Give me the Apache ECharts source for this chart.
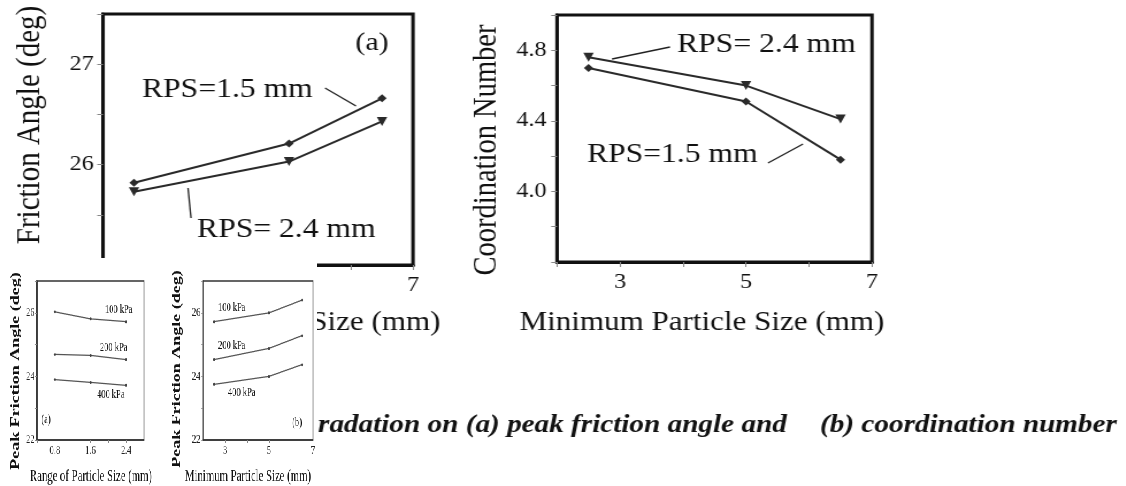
<!DOCTYPE html>
<html>
<head>
<meta charset="utf-8">
<script src="https://cdn.jsdelivr.net/npm/echarts@6/dist/echarts.min.js"></script>
<style>
html,body{margin:0;padding:0;background:#fff;overflow:hidden;width:1126px;height:486px;}
#main{position:absolute;left:0;top:0;height:486px;transform-origin:0 0;}
#inset{position:absolute;left:0;top:258px;height:228px;background:#fff;transform-origin:0 0;}
</style>
</head>
<body>
<div id="main"></div>
<div id="inset"></div>
<script>
// ---------- data ----------
const minParticleSize = [2.5, 5, 6.5];
const frictionRPS15 = [25.82, 26.21, 26.66];
const frictionRPS24 = [25.73, 26.03, 26.43];
const coordRPS24 = [4.76, 4.60, 4.41];
const coordRPS15 = [4.70, 4.51, 4.18];

const rangeParticleSize = [0.8, 1.6, 2.4];
const peakA100 = [26.03, 25.81, 25.72];
const peakA200 = [24.69, 24.66, 24.53];
const peakA400 = [23.90, 23.81, 23.72];
const peakB100 = [25.72, 26.00, 26.40];
const peakB200 = [24.53, 24.88, 25.28];
const peakB400 = [23.75, 24.00, 24.37];

const frictionTicks = [26, 27];
const coordTicks = [4.0, 4.4, 4.8];
const minSizeTicks = [3, 5, 7];
const rangeTicks = [0.8, 1.6, 2.4];
const peakTicks = [22, 24, 26];

// ---------- helpers ----------
const S1 = 1.15;   // horizontal stretch of main figure
const S2 = 0.65;   // horizontal compression of inset figure
const FONT = 'Liberation Serif';
function pick(list, dec){ return function(v){ return list.some(t => Math.abs(t - v) < 1e-6) ? (dec ? v.toFixed(dec) : String(v)) : ''; }; }
function pairs(xs, ys){ return xs.map((x,i)=>[x, ys[i]]); }
function txt(x, y, text, size, opt){
  opt = opt || {};
  return { type:'text', x:x, y:y, rotation: opt.rot || 0, z: 50,
    style:{ text:text, fontSize:size, fontFamily:FONT, fontWeight: opt.weight || 'normal', fontStyle: opt.style || 'normal',
      fill:'#111', align: opt.align || 'left', textAlign: opt.align || 'left', verticalAlign:'middle', textVerticalAlign:'middle' } };
}
function ln(x1,y1,x2,y2,w){ return { type:'line', z:50, shape:{x1:x1,y1:y1,x2:x2,y2:y2}, style:{stroke:'#222', lineWidth:w||1.3} }; }

// ---------- main figure ----------
const mainW = 1126 / S1;
const mainEl = document.getElementById('main');
mainEl.style.width = mainW + 'px';
mainEl.style.transform = 'scaleX(' + S1 + ')';
const X = v => v / S1;

const axisLineBig = { show:true, lineStyle:{ color:'#111', width:3 } };
const tickBig = { show:true, length:5, lineStyle:{ color:'#888', width:1 } };
const labelBig = { fontFamily:FONT, fontSize:21, color:'#111' };

const main = echarts.init(mainEl);
main.setOption({
  animation:false,
  backgroundColor:'#fff',
  grid:[
    { left:X(103), top:14, width:X(310), height:251, show:true, borderColor:'#111', borderWidth:3, backgroundColor:'transparent' },
    { left:X(557), top:15, width:X(315), height:247, show:true, borderColor:'#111', borderWidth:3, backgroundColor:'transparent' }
  ],
  xAxis:[
    { gridIndex:0, type:'value', min:2, max:7, interval:1, axisLine:axisLineBig, axisTick:tickBig, splitLine:{show:false},
      axisLabel:Object.assign({ margin:10, formatter:pick(minSizeTicks) }, labelBig) },
    { gridIndex:1, type:'value', min:2, max:7, interval:1, axisLine:axisLineBig, axisTick:tickBig, splitLine:{show:false},
      axisLabel:Object.assign({ margin:10, formatter:pick(minSizeTicks) }, labelBig) }
  ],
  yAxis:[
    { gridIndex:0, type:'value', min:25, max:27.5, interval:0.5, axisLine:axisLineBig, axisTick:tickBig, splitLine:{show:false},
      axisLabel:Object.assign({ margin:8, formatter:pick(frictionTicks) }, labelBig) },
    { gridIndex:1, type:'value', min:3.6, max:5.0, interval:0.2, axisLine:axisLineBig, axisTick:tickBig, splitLine:{show:false},
      axisLabel:Object.assign({ margin:9, formatter:pick(coordTicks, 1) }, labelBig) }
  ],
  series:[
    { name:'RPS=1.5 mm', type:'line', xAxisIndex:0, yAxisIndex:0, data:pairs(minParticleSize, frictionRPS15),
      symbol:'diamond', symbolSize:8, lineStyle:{color:'#2a2a2a', width:2}, itemStyle:{color:'#2a2a2a'} },
    { name:'RPS= 2.4 mm', type:'line', xAxisIndex:0, yAxisIndex:0, data:pairs(minParticleSize, frictionRPS24),
      symbol:'triangle', symbolRotate:180, symbolSize:9, lineStyle:{color:'#2a2a2a', width:2}, itemStyle:{color:'#2a2a2a'} },
    { name:'RPS= 2.4 mm', type:'line', xAxisIndex:1, yAxisIndex:1, data:pairs(minParticleSize, coordRPS24),
      symbol:'triangle', symbolRotate:180, symbolSize:9, lineStyle:{color:'#2a2a2a', width:2}, itemStyle:{color:'#2a2a2a'} },
    { name:'RPS=1.5 mm', type:'line', xAxisIndex:1, yAxisIndex:1, data:pairs(minParticleSize, coordRPS15),
      symbol:'diamond', symbolSize:8, lineStyle:{color:'#2a2a2a', width:2}, itemStyle:{color:'#2a2a2a'} }
  ],
  graphic:[
    txt(X(30), 125, 'Friction Angle (deg)', 29, {rot:Math.PI/2, align:'center'}),
    txt(X(487), 150, 'Coordination Number', 28.5, {rot:Math.PI/2, align:'center'}),
    txt(X(372), 43, '(a)', 26, {align:'center'}),
    txt(X(142), 90, 'RPS=1.5 mm', 27.5),
    ln(X(325), 88, X(356), 106),
    txt(X(197), 230, 'RPS= 2.4 mm', 27.5),
    ln(X(188), 188, X(191), 218),
    txt(X(677), 45, 'RPS= 2.4 mm', 27.5),
    ln(X(612), 59, X(670), 47),
    txt(X(587), 155, 'RPS=1.5 mm', 27.5),
    ln(X(768), 163, X(803), 144),
    txt(X(258), 323, 'Minimum Particle Size (mm)', 27, {align:'center'}),
    txt(X(702), 323, 'Minimum Particle Size (mm)', 27, {align:'center'}),
    txt(X(318), 425, 'radation on (a) peak friction angle and', 25.4, {weight:'bold', style:'italic'}),
    txt(X(820), 425, '(b) coordination number', 25.4, {weight:'bold', style:'italic'})
  ]
});

// ---------- inset figure ----------
const insetW = 317 / S2;
const insetEl = document.getElementById('inset');
insetEl.style.width = insetW + 'px';
insetEl.style.transform = 'scaleX(' + S2 + ')';
const U = v => v / S2;
const IY = v => v - 258;

const axisLineSm = { show:true, lineStyle:{ color:'#333', width:1.5 } };
const tickSm = { show:true, length:3, lineStyle:{ color:'#888', width:1 } };
const labelSm = { fontFamily:FONT, fontSize:13, color:'#222' };
function smSeries(xi, xs, ys){
  return { type:'line', xAxisIndex:xi, yAxisIndex:xi, data:pairs(xs, ys), symbol:'circle', symbolSize:3,
    lineStyle:{color:'#555', width:1.3}, itemStyle:{color:'#444'} };
}
const inset = echarts.init(insetEl);
inset.setOption({
  animation:false,
  backgroundColor:'#fff',
  grid:[
    { left:U(37), top:IY(281), width:U(107), height:159, show:true, borderColor:'#333', borderWidth:1.5, backgroundColor:'transparent' },
    { left:U(203), top:IY(281), width:U(110), height:159, show:true, borderColor:'#333', borderWidth:1.5, backgroundColor:'transparent' }
  ],
  xAxis:[
    { gridIndex:0, type:'value', min:0.4, max:2.8, interval:0.4, axisLine:axisLineSm, axisTick:tickSm, splitLine:{show:false},
      axisLabel:Object.assign({ margin:4, formatter:pick(rangeTicks, 1) }, labelSm) },
    { gridIndex:1, type:'value', min:2, max:7, interval:1, axisLine:axisLineSm, axisTick:tickSm, splitLine:{show:false},
      axisLabel:Object.assign({ margin:4, formatter:pick(minSizeTicks) }, labelSm) }
  ],
  yAxis:[
    { gridIndex:0, type:'value', min:22, max:27, interval:1, axisLine:axisLineSm, axisTick:tickSm, splitLine:{show:false},
      axisLabel:Object.assign({ margin:4, formatter:pick(peakTicks) }, labelSm) },
    { gridIndex:1, type:'value', min:22, max:27, interval:1, axisLine:axisLineSm, axisTick:tickSm, splitLine:{show:false},
      axisLabel:Object.assign({ margin:4, formatter:pick(peakTicks) }, labelSm) }
  ],
  series:[
    smSeries(0, rangeParticleSize, peakA100),
    smSeries(0, rangeParticleSize, peakA200),
    smSeries(0, rangeParticleSize, peakA400),
    smSeries(1, minParticleSize, peakB100),
    smSeries(1, minParticleSize, peakB200),
    smSeries(1, minParticleSize, peakB400)
  ],
  graphic:[
    txt(U(16), IY(371), 'Peak Friction Angle (deg)', 18, {rot:Math.PI/2, align:'center', weight:'bold'}),
    txt(U(177), IY(369), 'Peak Friction Angle (deg)', 18, {rot:Math.PI/2, align:'center', weight:'bold'}),
    txt(U(91), IY(477), 'Range of Particle Size (mm)', 16.5, {align:'center'}),
    txt(U(248), IY(477), 'Minimum Particle Size (mm)', 16.5, {align:'center'}),
    txt(U(105), IY(310), '100 kPa', 13),
    txt(U(100), IY(348), '200 kPa', 13),
    txt(U(97), IY(395), '400 kPa', 13),
    txt(U(46), IY(420), '(a)', 13, {align:'center'}),
    txt(U(218), IY(308), '100 kPa', 13),
    txt(U(218), IY(346), '200 kPa', 13),
    txt(U(228), IY(393), '400 kPa', 13),
    txt(U(297), IY(423), '(b)', 13, {align:'center'})
  ]
});
</script>
</body>
</html>
